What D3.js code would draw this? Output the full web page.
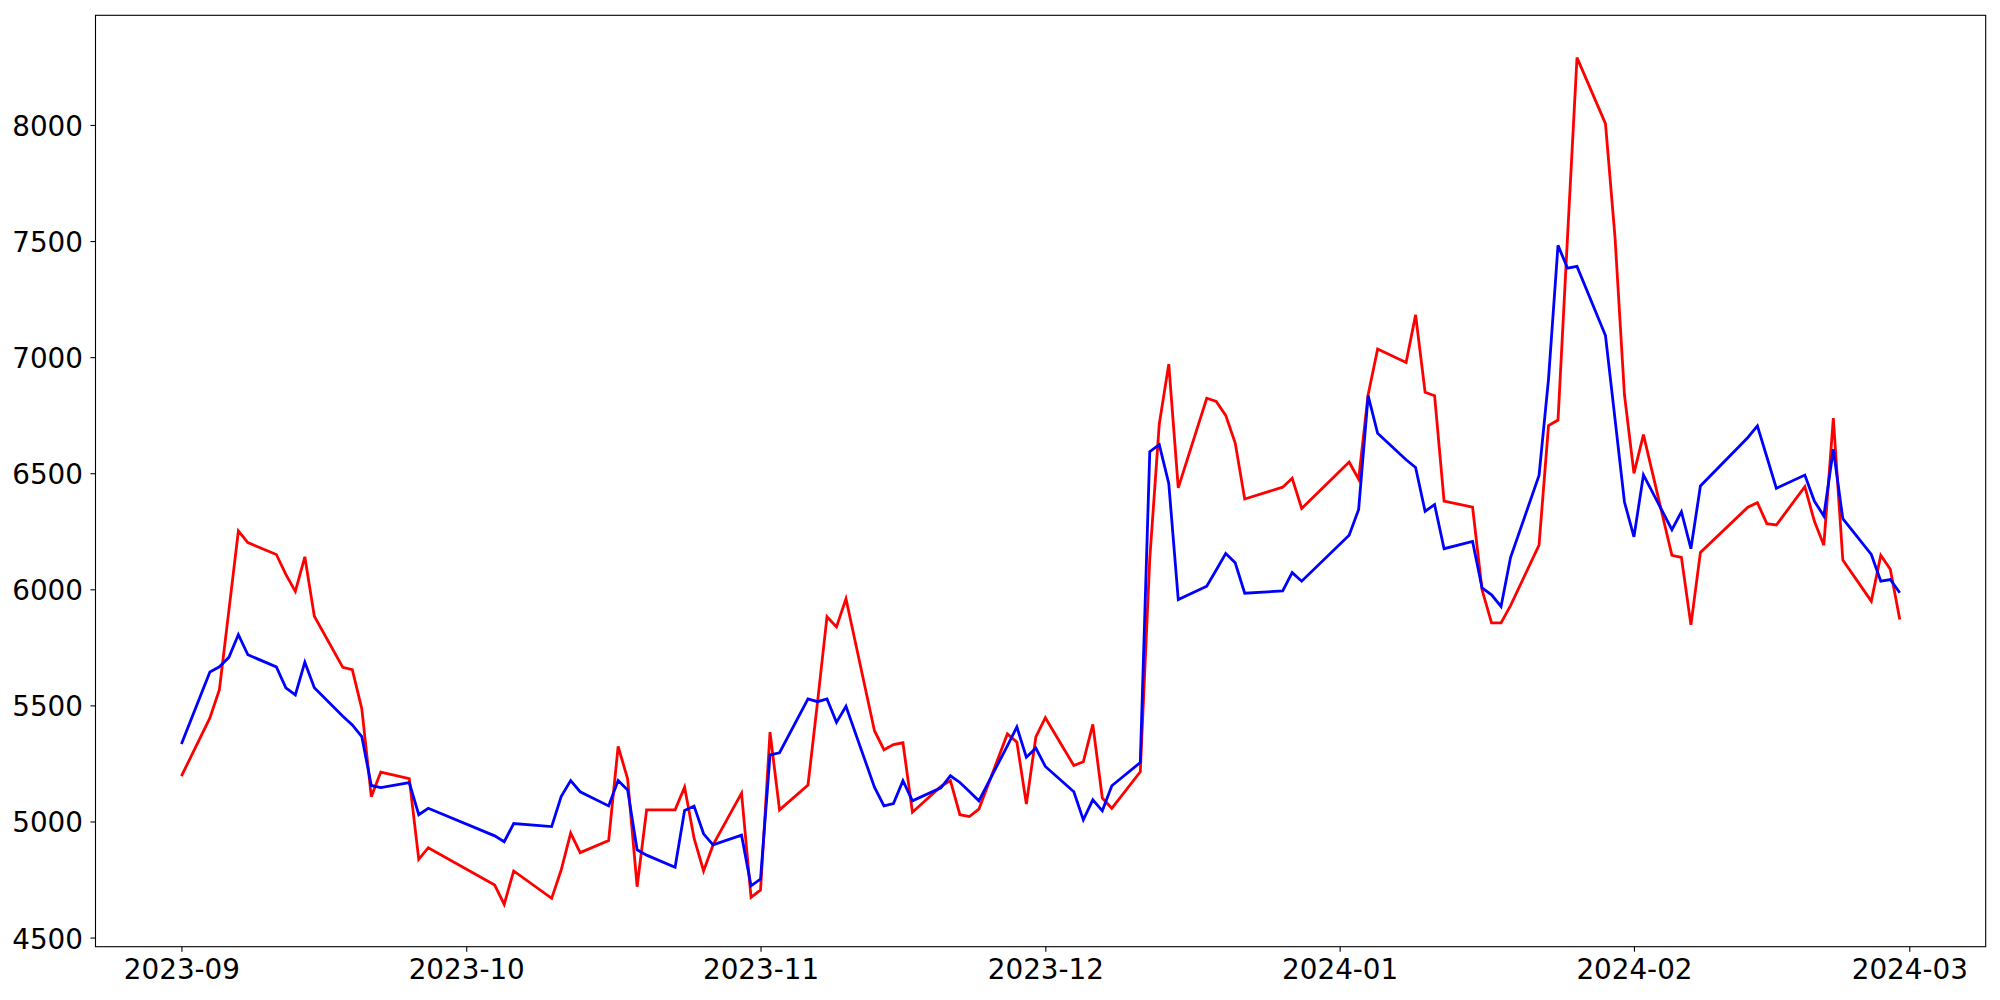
<!DOCTYPE html>
<html>
<head>
<meta charset="utf-8">
<script src="https://cdn.jsdelivr.net/npm/d3@7"></script>
<style>
  html, body { margin: 0; padding: 0; background: #ffffff; }
  svg { display: block; }
  text { font-family: "DejaVu Sans", sans-serif; }
</style>
</head>
<body>
<svg id="chart" width="2000" height="1000"></svg>
<script>
// Trading dates (KRX calendar, Sep 2023 - Feb 2024)
const dates = [
  "2023-09-01","2023-09-04","2023-09-05","2023-09-06","2023-09-07","2023-09-08","2023-09-11","2023-09-12","2023-09-13","2023-09-14","2023-09-15","2023-09-18","2023-09-19","2023-09-20","2023-09-21","2023-09-22","2023-09-25","2023-09-26","2023-09-27",
  "2023-10-04","2023-10-05","2023-10-06","2023-10-10","2023-10-11","2023-10-12","2023-10-13","2023-10-16","2023-10-17","2023-10-18","2023-10-19","2023-10-20","2023-10-23","2023-10-24","2023-10-25","2023-10-26","2023-10-27","2023-10-30","2023-10-31",
  "2023-11-01","2023-11-02","2023-11-03","2023-11-06","2023-11-07","2023-11-08","2023-11-09","2023-11-10","2023-11-13","2023-11-14","2023-11-15","2023-11-16","2023-11-17","2023-11-20","2023-11-21","2023-11-22","2023-11-23","2023-11-24","2023-11-27","2023-11-28","2023-11-29","2023-11-30",
  "2023-12-01","2023-12-04","2023-12-05","2023-12-06","2023-12-07","2023-12-08","2023-12-11","2023-12-12","2023-12-13","2023-12-14","2023-12-15","2023-12-18","2023-12-19","2023-12-20","2023-12-21","2023-12-22","2023-12-26","2023-12-27","2023-12-28",
  "2024-01-02","2024-01-03","2024-01-04","2024-01-05","2024-01-08","2024-01-09","2024-01-10","2024-01-11","2024-01-12","2024-01-15","2024-01-16","2024-01-17","2024-01-18","2024-01-19","2024-01-22","2024-01-23","2024-01-24","2024-01-25","2024-01-26","2024-01-29","2024-01-30","2024-01-31",
  "2024-02-01","2024-02-02","2024-02-05","2024-02-06","2024-02-07","2024-02-08","2024-02-13","2024-02-14","2024-02-15","2024-02-16","2024-02-19","2024-02-20","2024-02-21","2024-02-22","2024-02-23","2024-02-26","2024-02-27","2024-02-28","2024-02-29"
];

const redValues = [
  5195,5446,5568,5909,6251,6201,6150,6064,5991,6140,5884,5664,5654,5486,5107,5213,5185,4837,4887,
  4726,4643,4787,4669,4791,4950,4866,4918,5323,5184,4719,5050,5050,5148,4928,4787,4899,5122,4673,
  4705,5385,5050,5157,5513,5882,5838,5959,5391,5309,5331,5339,5040,5151,5176,5029,5021,5053,5377,5342,5075,5364,
  5447,5241,5257,5418,5101,5057,5214,6132,6712,6970,6437,6823,6809,6749,6630,6389,6440,6478,6348,
  6548,6474,6838,7035,6977,7182,6849,6834,6380,6354,5998,5855,5855,5930,6190,6705,6729,7516,8290,8006,7519,6837,
  6499,6666,6146,6137,5847,6159,6354,6373,6283,6277,6442,6294,6190,6737,6126,5949,6147,6086,5870
];

const blueValues = [
  5334,5644,5666,5707,5805,5718,5666,5576,5545,5686,5576,5453,5416,5366,5155,5146,5167,5029,5057,
  4938,4913,4991,4978,5107,5176,5128,5067,5176,5136,4878,4855,4803,5047,5066,4947,4899,4941,4723,
  4752,5287,5296,5528,5516,5528,5427,5496,5148,5067,5077,5176,5089,5145,5197,5168,5129,5089,5326,5407,5277,5316,
  5237,5128,5007,5093,5046,5154,5254,6593,6623,6456,5956,6013,6083,6154,6114,5983,5993,6072,6035,
  6233,6344,6834,6672,6558,6525,6336,6365,6175,6206,6006,5976,5926,6137,6490,6905,7482,7383,7391,7093,6735,6376,
  6226,6493,6257,6334,6175,6445,6654,6704,6570,6435,6492,6380,6316,6603,6304,6150,6035,6042,5985
];

const xTickDates = ["2023-09-01","2023-10-01","2023-11-01","2023-12-01","2024-01-01","2024-02-01","2024-03-01"];
const xTickLabels = ["2023-09","2023-10","2023-11","2023-12","2024-01","2024-02","2024-03"];
const yTicks = [4500,5000,5500,6000,6500,7000,7500,8000];

const parse = d3.utcParse("%Y-%m-%d");
const xs = dates.map(parse);

const svg = d3.select("#chart");
const plot = { left: 95.5, right: 1985.7, top: 15.3, bottom: 946.7 };

// matplotlib-like 5% margins
const xExt = d3.extent(xs);
const xPad = (xExt[1] - xExt[0]) * 0.05;
const x = d3.scaleUtc()
  .domain([new Date(+xExt[0] - xPad), new Date(+xExt[1] + xPad)])
  .range([plot.left, plot.right]);

const allVals = redValues.concat(blueValues);
const yMin = d3.min(allVals), yMax = d3.max(allVals);
const yPad = (yMax - yMin) * 0.05;
const y = d3.scaleLinear()
  .domain([yMin - yPad, yMax + yPad])
  .range([plot.bottom, plot.top]);

const line = d3.line()
  .x((d, i) => x(xs[i]))
  .y(d => y(d));

svg.append("path")
  .datum(redValues)
  .attr("fill", "none")
  .attr("stroke", "#ff0000")
  .attr("stroke-width", 2.8)
  .attr("stroke-linejoin", "miter")
  .attr("d", line);

svg.append("path")
  .datum(blueValues)
  .attr("fill", "none")
  .attr("stroke", "#0000ff")
  .attr("stroke-width", 2.8)
  .attr("stroke-linejoin", "miter")
  .attr("d", line);

// Axes
const xAxis = d3.axisBottom(x)
  .tickValues(xTickDates.map(parse))
  .tickFormat((d, i) => xTickLabels[i])
  .tickSize(5)
  .tickSizeOuter(0);

const gx = svg.append("g")
  .attr("transform", `translate(0,${plot.bottom})`)
  .call(xAxis);
gx.select(".domain").remove();
gx.selectAll(".tick line").attr("stroke", "#000").attr("stroke-width", 1.1);
gx.selectAll(".tick text")
  .attr("y", 32.8).attr("dy", 0)
  .attr("fill", "#000")
  .style("font-family", "'DejaVu Sans', sans-serif")
  .style("font-size", "27.8px");

const yAxis = d3.axisLeft(y)
  .tickValues(yTicks)
  .tickFormat(d3.format("d"))
  .tickSize(5)
  .tickSizeOuter(0);

const gy = svg.append("g")
  .attr("transform", `translate(${plot.left},0)`)
  .call(yAxis);
gy.select(".domain").remove();
gy.selectAll(".tick line").attr("stroke", "#000").attr("stroke-width", 1.1);
gy.selectAll(".tick text")
  .attr("x", -12.5).attr("dy", 10.5)
  .attr("fill", "#000")
  .style("font-family", "'DejaVu Sans', sans-serif")
  .style("font-size", "27.8px");

// Frame (spines)
svg.append("rect")
  .attr("x", plot.left)
  .attr("y", plot.top)
  .attr("width", plot.right - plot.left)
  .attr("height", plot.bottom - plot.top)
  .attr("fill", "none")
  .attr("stroke", "#000")
  .attr("stroke-width", 1.1);
</script>
</body>
</html>
